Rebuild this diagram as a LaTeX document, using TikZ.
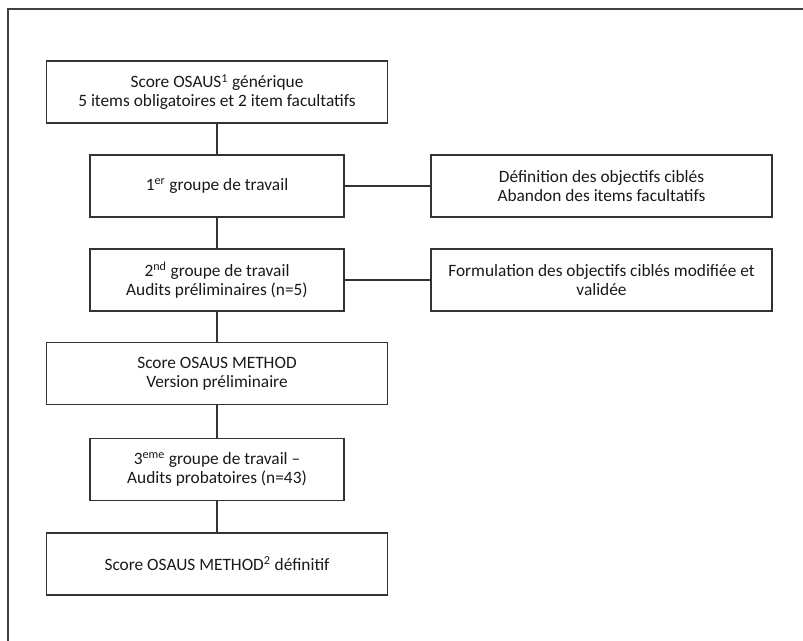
\documentclass[tikz,border=0pt]{standalone}
\usepackage{fontspec}
\setmainfont{Carlito}
\begin{document}
\begin{tikzpicture}[x=0.75pt, y=-0.75pt,
  box/.style={draw=black!80, line width=1pt, inner sep=0pt, align=center,
    minimum height=46.5pt, text=black!90, font=\fontsize{13}{14.2}\selectfont},
  wide/.style={box, minimum width=255.75pt},
  narrow/.style={box, minimum width=190.5pt},
  link/.style={draw=black!80, line width=1pt}]

\useasboundingbox (0,0) rectangle (803,641);
%\draw[help lines, color=gray!30, dashed] (0,0) grid[step=50] (803,641);
\draw[black!75, line width=1.5pt] (8,641) -- (8,9) -- (803,9);

\node[wide]   (osaus)  at (217,92)    {Score OSAUS\textsuperscript{1} générique\\5 items obligatoires et 2 item facultatifs};
\node[narrow] (gt1)    at (217,186)   {1\textsuperscript{er} groupe de travail};
\node[narrow] (gt2)    at (217,280)   {2\textsuperscript{nd} groupe de travail\\Audits préliminaires (n=5)};
\node[wide]   (prelim) at (217,373.5) {Score OSAUS METHOD\\Version préliminaire};
\node[narrow] (gt3)    at (217,469.5) {3\textsuperscript{eme} groupe de travail --\\Audits probatoires (n=43)};
\node[wide]   (final)  at (217,564)   {Score OSAUS METHOD\textsuperscript{2} définitif};

\node[wide] (obj)  at (601.5,186) {Définition des objectifs ciblés\\Abandon des items facultatifs};
\node[wide] (form) at (601.5,280) {Formulation des objectifs ciblés modifiée et\\validée};

\draw[link] (osaus) -- (gt1);
\draw[link] (gt1) -- (gt2);
\draw[link] (gt2) -- (prelim);
\draw[link] (prelim) -- (gt3);
\draw[link] (gt3) -- (final);
\draw[link] (gt1) -- (obj);
\draw[link] (gt2) -- (form);
\end{tikzpicture}
\end{document}
